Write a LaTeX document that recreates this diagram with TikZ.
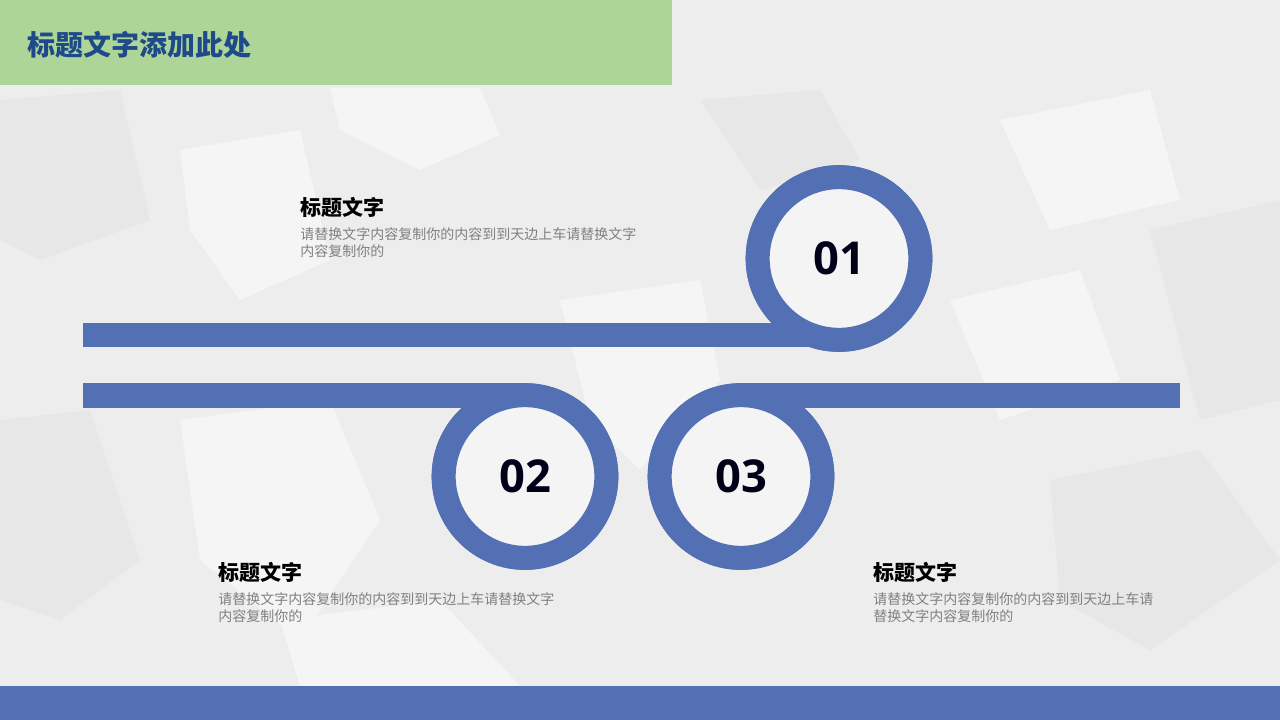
\documentclass[tikz,border=0pt]{standalone}
\usepackage{fontspec}
\newfontfamily\cjk{Noto Sans CJK SC}
\newfontfamily\digits{Open Sans}
\usetikzlibrary{positioning}
\definecolor{barblue}{HTML}{5470B4}
\definecolor{leaf}{HTML}{ADD598}
\definecolor{navy}{HTML}{1F4A8A}
\definecolor{paper}{HTML}{EDEDED}
\tikzset{bar/.style={barblue,line width=18.5pt},
  ring/.style={circle,draw=barblue,line width=18pt,fill=paper!60!white,minimum size=122pt,inner sep=0pt,font=\digits\bfseries\fontsize{34}{34}\selectfont,text=black!90!blue},
  headtxt/.style={anchor=west,inner sep=0pt,font=\cjk\bfseries\fontsize{15.75}{18}\selectfont},
  bodytxt/.style={anchor=north west,inner sep=0pt,align=left,text=black!50,font=\cjk\fontsize{10.5}{12.75}\selectfont}}
\begin{document}
\begin{tikzpicture}[x=0.75pt,y=-0.75pt]
      \useasboundingbox (0,0) rectangle (1280,720);
      \fill[paper] (0,0) rectangle (1280,720);
      \fill[white!45!paper] (330,88)--(480,88)--(500,135)--(420,170)--(340,130)--cycle (180,150)--(300,130)--(330,260)--(240,300)--(190,230)--cycle
      (560,300)--(700,280)--(720,380)--(640,470)--(590,420)--cycle (180,420)--(330,400)--(380,520)--(300,640)--(200,560)--cycle
      (280,620)--(440,600)--(520,686)--(300,686)--cycle (950,300)--(1080,270)--(1120,380)--(1000,420)--cycle (1000,120)--(1150,90)--(1180,200)--(1050,230)--cycle;
      \fill[black!2.5!paper] (0,100)--(120,90)--(150,220)--(40,260)--(0,240)--cycle (1150,230)--(1280,200)--(1280,400)--(1200,420)--cycle
      (0,420)--(90,410)--(140,560)--(60,620)--(0,600)--cycle (1050,480)--(1200,450)--(1280,560)--(1150,650)--(1060,600)--cycle (700,100)--(820,90)--(860,160)--(760,190)--cycle;
      \fill[leaf] (0,0) rectangle (672,85); \fill[barblue] (0,686) rectangle (1280,720);
      \node[headtxt,text=navy,font=\cjk\bfseries\fontsize{21}{24}\selectfont] (title) at (27,45) {标题文字添加此处};
      \coordinate (b1) at (83,335); \coordinate (b2) at (83,395.5); \coordinate (b3) at (1180,395.5);
      \node[ring] (c1) at (839,258.5) {}; \node[ring] (c2) at (525,476.5) {}; \node[ring] (c3) at (741,476.5) {};
      \draw[bar] (b1) -- (b1 -| c1); \draw[bar] (b2) -- (b2 -| c2); \draw[bar] (b3) -- (b3 -| c3);
      \node[ring] at (c1) {01}; \node[ring] at (c2) {02}; \node[ring] at (c3) {03};
      \node[headtxt] (t1) at (300,207) {标题文字}; \node[bodytxt] (d1) at (300,227) {请替换文字内容复制你的内容到到天边上车请替换文字\\内容复制你的};
      \node[headtxt] (t2) at (218,572) {标题文字}; \node[bodytxt] (d2) at (218,592) {请替换文字内容复制你的内容到到天边上车请替换文字\\内容复制你的};
      \node[headtxt] (t3) at (873,572) {标题文字}; \node[bodytxt] (d3) at (873,592) {请替换文字内容复制你的内容到到天边上车请\\替换文字内容复制你的};
    \end{tikzpicture}
\end{document}
